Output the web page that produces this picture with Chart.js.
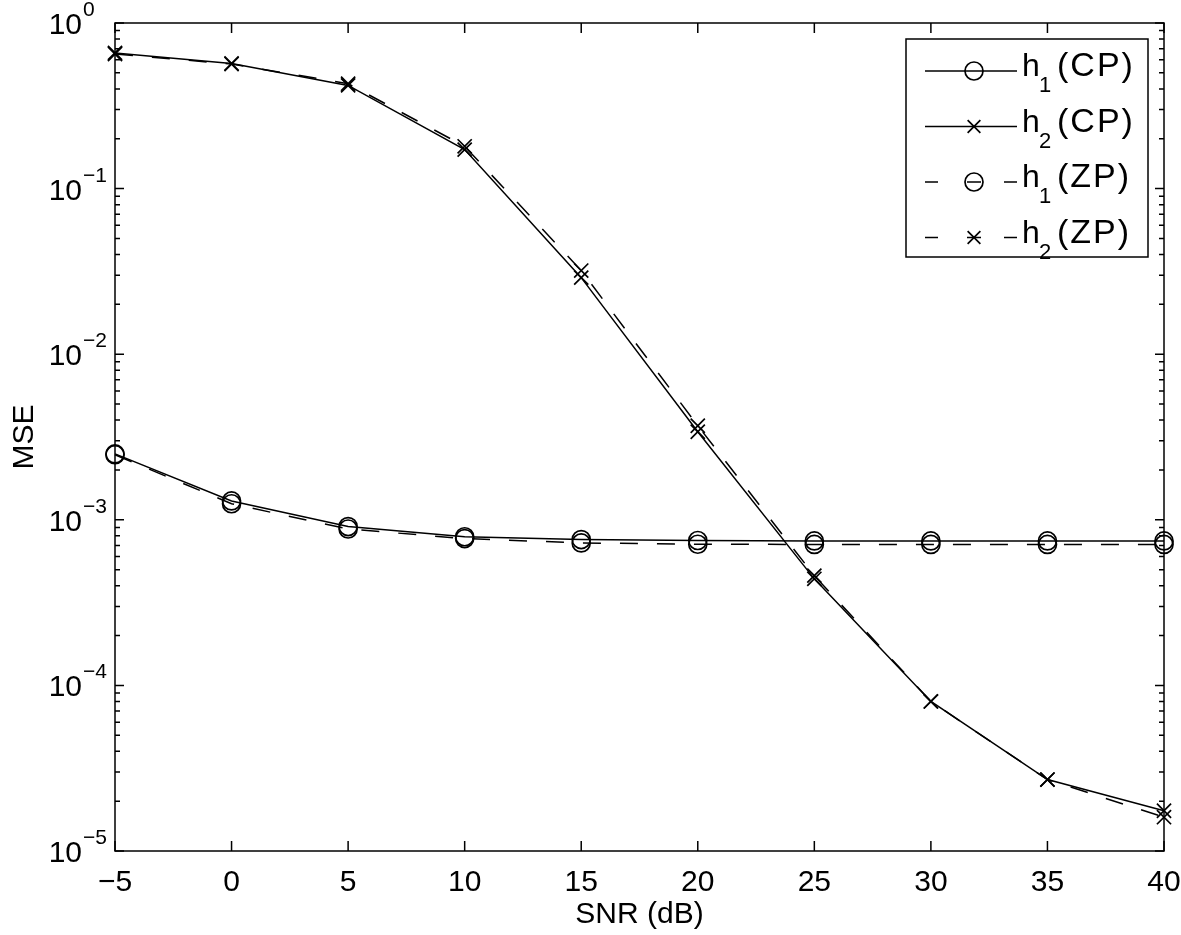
<!DOCTYPE html>
<html><head><meta charset="utf-8">
<script src="https://cdn.jsdelivr.net/npm/chart.js@4/dist/chart.umd.min.js"></script>
<style>html,body{margin:0;padding:0;background:#fff}#wrap{width:1181px;height:935px}</style>
</head><body><div id="wrap"><canvas id="c" width="1181" height="935"></canvas></div>
<script>
// ---- data ----
const snr = [-5, 0, 5, 10, 15, 20, 25, 30, 35, 40];
const mseH1CP = [2.5e-3, 1.3e-3, 9.1e-4, 7.9e-4, 7.6e-4, 7.5e-4, 7.45e-4, 7.45e-4, 7.45e-4, 7.45e-4];
const mseH2CP = [0.66, 0.57, 0.42, 0.172, 0.029, 0.0034, 4.4e-4, 8.0e-5, 2.7e-5, 1.75e-5];
const mseH1ZP = [2.47e-3, 1.25e-3, 8.8e-4, 7.7e-4, 7.25e-4, 7.12e-4, 7.1e-4, 7.1e-4, 7.1e-4, 7.1e-4];
const mseH2ZP = [0.65, 0.565, 0.43, 0.18, 0.032, 0.0037, 4.6e-4, 8.0e-5, 2.7e-5, 1.6e-5];
const xTickValues = [-5, 0, 5, 10, 15, 20, 25, 30, 35, 40];
const yDecades = [1e-5, 1e-4, 1e-3, 1e-2, 1e-1, 1];
const legendNames = [["h","1","(CP)"],["h","2","(CP)"],["h","1","(ZP)"],["h","2","(ZP)"]];
const xTitle = "SNR (dB)";
const yTitle = "MSE";

const FONT = "'Liberation Sans', Arial, Helvetica, sans-serif";
const DASH = [18, 19];

function mk(vals, marker, dashed) {
  return {
    data: snr.map((x, i) => ({x, y: vals[i]})),
    borderColor: '#000', backgroundColor: 'rgba(0,0,0,0)',
    borderWidth: 1.5, borderDash: dashed ? DASH : [],
    pointStyle: marker, pointRadius: marker === 'circle' ? 9 : 10,
    pointBorderWidth: 1.7, pointBorderColor: '#000', pointBackgroundColor: 'rgba(0,0,0,0)',
    tension: 0, clip: false, fill: false
  };
}

const axesPlugin = {
  id: 'matlabAxes',
  afterDatasetsDraw(chart) {
    const ctx = chart.ctx, a = chart.chartArea, xs = chart.scales.x, ys = chart.scales.y;
    ctx.save();
    ctx.strokeStyle = '#000'; ctx.lineWidth = 1.5; ctx.setLineDash([]);
    ctx.strokeRect(a.left, a.top, a.right - a.left, a.bottom - a.top);
    ctx.beginPath();
    xTickValues.forEach(v => {
      const px = xs.getPixelForValue(v);
      ctx.moveTo(px, a.bottom); ctx.lineTo(px, a.bottom - 10);
      ctx.moveTo(px, a.top); ctx.lineTo(px, a.top + 10);
    });
    yDecades.forEach(v => {
      const py = ys.getPixelForValue(v);
      ctx.moveTo(a.left, py); ctx.lineTo(a.left + 9, py);
      ctx.moveTo(a.right, py); ctx.lineTo(a.right - 9, py);
    });
    for (let e = -5; e < 0; e++) {
      for (let k = 2; k <= 9; k++) {
        const py = ys.getPixelForValue(k * Math.pow(10, e));
        ctx.moveTo(a.left, py); ctx.lineTo(a.left + 5, py);
        ctx.moveTo(a.right, py); ctx.lineTo(a.right - 5, py);
      }
    }
    ctx.stroke();
    // y tick labels 10^e
    ctx.fillStyle = '#000';
    yDecades.forEach(v => {
      const py = ys.getPixelForValue(v);
      const e = Math.round(Math.log10(v));
      ctx.font = '30px ' + FONT; ctx.textAlign = 'right'; ctx.textBaseline = 'alphabetic';
      ctx.fillText('10', 82, py + 11);
      ctx.font = '21px ' + FONT; ctx.textAlign = 'left';
      ctx.fillText(e === 0 ? '0' : '\u2212' + (-e), 83, py - 7);
    });
    // axis titles
    ctx.font = '30px ' + FONT; ctx.textAlign = 'center'; ctx.textBaseline = 'alphabetic';
    ctx.fillText(xTitle, (a.left + a.right) / 2, 923);
    ctx.save();
    ctx.translate(33, (a.top + a.bottom) / 2);
    ctx.rotate(-Math.PI / 2);
    ctx.fillText(yTitle, 0, 0);
    ctx.restore();
    ctx.restore();
  },
  afterDraw(chart) {
    const ctx = chart.ctx;
    ctx.save();
    const L = 906, T = 39, R = 1148, B = 257;
    ctx.fillStyle = '#fff';
    ctx.fillRect(L, T, R - L, B - T);
    ctx.strokeStyle = '#000'; ctx.lineWidth = 1.5; ctx.setLineDash([]);
    ctx.strokeRect(L, T, R - L, B - T);
    const styles = chart.data.datasets;
    const baselines = [76, 131.5, 187, 242.5];
    styles.forEach((ds, i) => {
      const ly = baselines[i] - 5;
      const dashed = ds.borderDash && ds.borderDash.length;
      ctx.strokeStyle = '#000'; ctx.lineWidth = 1.5;
      ctx.beginPath();
      if (dashed) {
        [[925, 938], [967, 981], [1004, 1017]].forEach(s => { ctx.moveTo(s[0], ly); ctx.lineTo(s[1], ly); });
      } else {
        ctx.moveTo(925, ly); ctx.lineTo(1017, ly);
      }
      ctx.stroke();
      ctx.fillStyle = 'rgba(0,0,0,0)';
      ctx.lineWidth = 1.7;
      Chart.helpers.drawPoint(ctx, {pointStyle: ds.pointStyle, radius: 9, borderWidth: 1.7, rotation: 0}, 974, ly);
      const n = legendNames[i];
      ctx.fillStyle = '#000'; ctx.textAlign = 'left'; ctx.textBaseline = 'alphabetic';
      ctx.font = '32px ' + FONT;
      ctx.fillText(n[0], 1022, baselines[i]);
      ctx.font = '22px ' + FONT;
      ctx.fillText(n[1], 1039, baselines[i] + 16);
      ctx.font = '34px ' + FONT;
      if ('letterSpacing' in ctx) ctx.letterSpacing = '2px';
      ctx.fillText(n[2], 1057, baselines[i]);
      if ('letterSpacing' in ctx) ctx.letterSpacing = '0px';
    });
    ctx.restore();
  }
};

new Chart(document.getElementById('c'), {
  type: 'line',
  data: {
    datasets: [
      mk(mseH1CP, 'circle', false),
      mk(mseH2CP, 'crossRot', false),
      mk(mseH1ZP, 'circle', true),
      mk(mseH2ZP, 'crossRot', true)
    ]
  },
  options: {
    responsive: false, animation: false, devicePixelRatio: 1,
    layout: {padding: {top: 23, right: 17, left: 0, bottom: 0}},
    plugins: {legend: {display: false}, tooltip: {enabled: false}, title: {display: false}},
    scales: {
      x: {
        type: 'linear', min: -5, max: 40,
        afterBuildTicks: s => { s.ticks = xTickValues.map(v => ({value: v})); },
        afterFit: s => { s.height = 84; s.paddingLeft = 0; s.paddingRight = 0; },
        grid: {display: false, drawTicks: false}, border: {display: false},
        ticks: {
          color: '#000', font: {family: FONT, size: 30}, padding: 14,
          maxRotation: 0, autoSkip: false,
          callback: v => v < 0 ? '\u2212' + Math.abs(v) : String(v)
        }
      },
      y: {
        type: 'logarithmic', min: 1e-5, max: 1,
        afterBuildTicks: s => { s.ticks = yDecades.map(v => ({value: v})); },
        afterFit: s => { s.width = 115; s.paddingTop = 0; s.paddingBottom = 0; },
        grid: {display: false, drawTicks: false}, border: {display: false},
        ticks: {display: false}
      }
    }
  },
  plugins: [axesPlugin]
});
</script></body></html>
